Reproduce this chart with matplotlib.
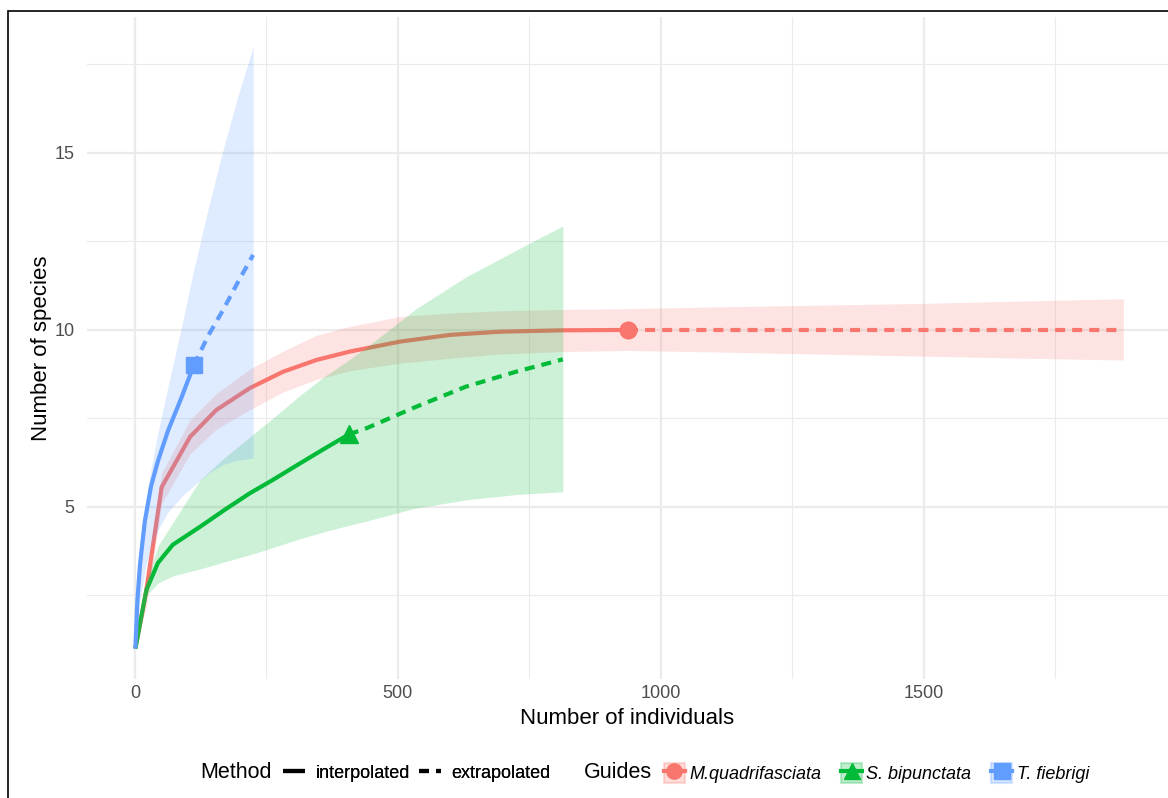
import matplotlib
matplotlib.use("Agg")
import matplotlib.pyplot as plt
from matplotlib.lines import Line2D
from matplotlib.patches import Rectangle
from matplotlib.legend_handler import HandlerTuple

plt.rcParams['font.family'] = ['Liberation Sans', 'DejaVu Sans']

# ---------------- data ----------------
guides = ["M.quadrifasciata", "S. bipunctata", "T. fiebrigi"]
colors = ["#F8766D", "#00BA38", "#619CFF"]
markers = ["o", "^", "s"]

# M. quadrifasciata
m_x_int = [1, 22, 51, 105, 155, 219, 282, 345, 409, 504, 599, 694, 814, 937]
m_y_int = [1, 2.66, 5.56, 6.98, 7.74, 8.36, 8.82, 9.15, 9.39, 9.67, 9.86, 9.95, 9.99, 10.0]
m_x_ext = [937, 1100, 1300, 1500, 1700, 1880]
m_y_ext = [10.0, 10.0, 10.0, 10.0, 10.0, 10.0]
m_lo = [1, 2.2, 5.1, 6.5, 7.2, 7.75, 8.25, 8.6, 8.85, 9.06, 9.2, 9.32, 9.39, 9.42,
        9.38, 9.32, 9.26, 9.2, 9.15]
m_hi = [1, 3.2, 5.96, 7.46, 8.2, 8.9, 9.4, 9.85, 10.1, 10.38, 10.48, 10.54, 10.58, 10.6,
        10.65, 10.7, 10.75, 10.82, 10.88]

# S. bipunctata
s_x_int = [1, 22, 44, 72, 124, 171, 219, 262, 314, 360, 407]
s_y_int = [1, 2.66, 3.42, 3.93, 4.44, 4.92, 5.39, 5.76, 6.23, 6.64, 7.05]
s_x_ext = [407, 440, 535, 630, 725, 814]
s_y_ext = [7.05, 7.22, 7.83, 8.4, 8.82, 9.17]
s_lo = [1, 2.5, 2.85, 3.05, 3.25, 3.45, 3.65, 3.85, 4.1, 4.3, 4.48,
        4.6, 4.97, 5.2, 5.35, 5.43]
s_hi = [1, 2.9, 3.9, 4.55, 5.76, 6.4, 6.98, 7.5, 8.15, 8.68, 9.15,
        9.5, 10.6, 11.5, 12.25, 12.94]

# T. fiebrigi
t_x_int = [1, 5, 10, 19, 31, 44, 63, 89, 112]
t_y_int = [1, 2.4, 3.4, 4.6, 5.6, 6.3, 7.15, 8.1, 9.0]
t_x_ext = [112, 140, 168, 196, 225]
t_y_ext = [9.0, 9.85, 10.57, 11.35, 12.12]
t_lo = [1, 1.8, 2.4, 3.2, 3.9, 4.35, 4.85, 5.3, 5.6, 5.95, 6.2, 6.32, 6.38]
t_hi = [1, 2.6, 3.6, 4.9, 6.1, 7.1, 8.4, 10.1, 11.7, 13.45, 15.1, 16.6, 18.0]

series = [
    (m_x_int, m_y_int, m_x_ext, m_y_ext, m_lo, m_hi),
    (s_x_int, s_y_int, s_x_ext, s_y_ext, s_lo, s_hi),
    (t_x_int, t_y_int, t_x_ext, t_y_ext, t_lo, t_hi),
]

xticks = [0, 500, 1000, 1500]
yticks = [5, 10, 15]

# ---------------- figure ----------------
W, H = 1168, 798
fig = plt.figure(figsize=(W / 100, H / 100), dpi=100)
ax = fig.add_axes([87 / W, 1 - 679 / H, (1168 - 87) / W, (679 - 17) / H])

lw = 3.0
for (xi, yi, xe, ye, lo, hi), c, mk in zip(series, colors, markers):
    ax.plot(xi, yi, color=c, lw=lw, solid_capstyle='butt', zorder=3)
    ax.plot(xe, ye, color=c, lw=lw, dashes=(2.4, 1.7), dash_capstyle='butt', zorder=3)
    ax.plot([xi[-1]], [yi[-1]], marker=mk, color=c, ms=12 if mk != '^' else 13,
            mec=c, ls='none', zorder=4)
    xall = list(xi) + list(xe[1:])
    ax.fill_between(xall, lo, hi, color=c, alpha=0.2, lw=0, zorder=5)

ax.set_xlim(-91, 1965)
ax.set_ylim(0.14, 18.84)
ax.set_xticks(xticks)
ax.set_yticks(yticks)
ax.set_xticks([250, 750, 1250, 1750], minor=True)
ax.set_yticks([2.5, 7.5, 12.5, 17.5], minor=True)
ax.grid(True, which='major', color='#EBEBEB', lw=1.6, zorder=0)
ax.grid(True, which='minor', color='#EBEBEB', lw=0.8, zorder=0)
ax.set_axisbelow(True)
for s in ax.spines.values():
    s.set_visible(False)
ax.tick_params(which='both', length=0, labelsize=13, labelcolor='#4D4D4D')
ax.tick_params(axis='y', pad=9)
ax.tick_params(axis='x', pad=4)
ax.set_xlabel("Number of individuals", fontsize=16, labelpad=5)
ax.set_ylabel("Number of species", fontsize=16, labelpad=2)

# ---------------- legends ----------------
ly = 1 - 773 / H
fig.text(200 / W, ly, "Method", fontsize=15.5, va='center', ha='left')
h_int = Line2D([], [], color='black', lw=lw, solid_capstyle='butt')
h_ext = Line2D([], [], color='black', lw=lw, dashes=(2.4, 1.7), dash_capstyle='butt')
leg1 = fig.legend([h_int, h_ext], ["interpolated", "extrapolated"], ncol=2,
                  loc='center left', bbox_to_anchor=(283 / W, ly), frameon=False,
                  fontsize=13, handlelength=1.2, handletextpad=0.6,
                  columnspacing=0.5, borderpad=0, borderaxespad=0)

fig.text(584 / W, ly, "Guides", fontsize=15.5, va='center', ha='left')
gh = []
for c, mk in zip(colors, markers):
    box = Rectangle((0, 0), 1, 1, facecolor=c, alpha=0.25, edgecolor=c, lw=1.5)
    ln = Line2D([], [], color=c, lw=lw, marker=mk, ms=11, mec=c)
    gh.append((box, ln))
leg2 = fig.legend(gh, guides, ncol=3, loc='center left',
                  bbox_to_anchor=(664 / W, ly), frameon=False,
                  prop={'style': 'italic', 'size': 13},
                  handlelength=1.15, handleheight=1.3, handletextpad=0.25,
                  columnspacing=1.1, borderpad=0, borderaxespad=0,
                  handler_map={tuple: HandlerTuple(ndivide=1)})
fig.add_artist(leg1)

# outer frame (top and left visible)
fig.add_artist(Rectangle((8 / W, -0.05), 1.2, 1.05 - 11.5 / H, transform=fig.transFigure,
                         fill=False, edgecolor='black', lw=1.2, clip_on=False))

fig.savefig("out.png", dpi=100)
